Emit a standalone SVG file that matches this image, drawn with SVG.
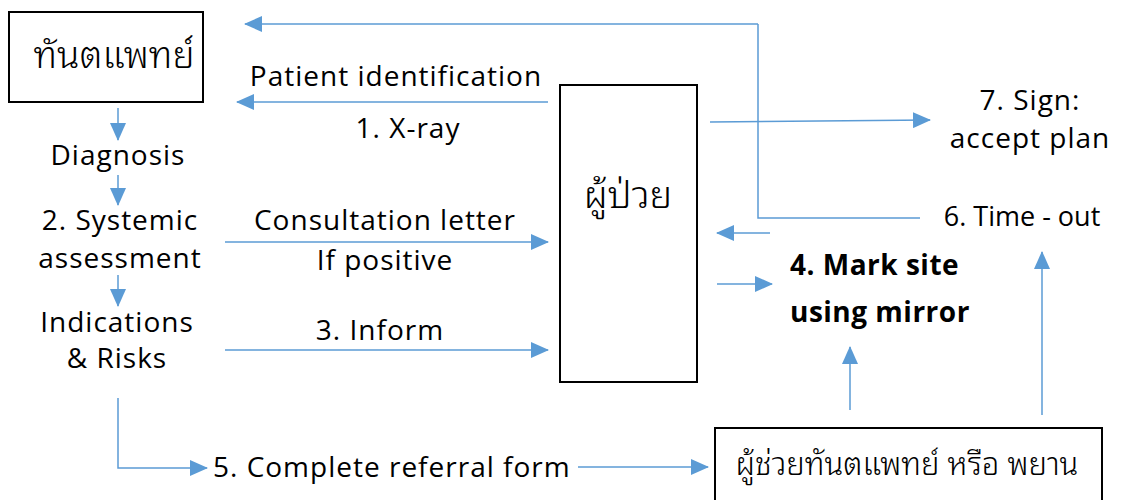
<svg xmlns="http://www.w3.org/2000/svg" width="1135" height="500" viewBox="0 0 1135 500">
<style>
.t{font-family:"Open Sans","Noto Sans",sans-serif;font-size:28px;letter-spacing:1px;fill:#000}
.b{font-weight:bold;letter-spacing:0.5px}
.th{font-family:"Noto Sans Thai Looped","Noto Sans Thai","Noto Sans","DejaVu Sans",sans-serif;font-weight:300;fill:#000}
.box{fill:#fff;stroke:#000;stroke-width:2}
.c{fill:none;stroke:#5B9BD5;stroke-width:1.5;marker-end:url(#ah)}
.n{fill:none;stroke:#5B9BD5;stroke-width:1.5}
</style>
<defs>
<marker id="ah" markerUnits="userSpaceOnUse" markerWidth="18" markerHeight="16" viewBox="0 0 18 16" refX="17" refY="8" orient="auto">
<path d="M0,0 L18,8 L0,16 Z" fill="#5B9BD5"/>
</marker>
</defs>
<rect width="1135" height="500" fill="#fff"/>
<g id="connectors">
<path class="n" d="M920,218 H758 V24"/>
<path class="c" d="M758,24 H245"/>
<path class="c" d="M548,102 H237"/>
<path class="c" d="M710,122 L930,120"/>
<path class="c" d="M770,233 H717"/>
<path class="c" d="M717,284 H772"/>
<path class="c" d="M118,108 V140"/>
<path class="c" d="M118,175 V205"/>
<path class="c" d="M118,275 V306"/>
<path class="c" d="M225,242 H548"/>
<path class="c" d="M225,350 H548"/>
<path class="c" d="M118,398 V468 H207"/>
<path class="c" d="M578,467 H708"/>
<path class="c" d="M850,410 V347"/>
<path class="c" d="M1042,415 V252"/>
</g>
<g id="dentist">
<rect class="box" x="9" y="12" width="194" height="90"/>
<text class="th" x="114" y="68" font-size="37" text-anchor="middle">ทันตแพทย์</text>
</g>
<g id="patient">
<rect class="box" x="560" y="85" width="137" height="297"/>
<text class="th" x="628" y="208" font-size="38" text-anchor="middle">ผู้ป่วย</text>
</g>
<g id="assistant">
<rect class="box" x="715" y="428" width="387" height="80"/>
<text class="th" x="907" y="475" font-size="31" text-anchor="middle">ผู้ช่วยทันตแพทย์ หรือ พยาน</text>
</g>
<g id="labels">
<text class="t" x="396" y="86" text-anchor="middle">Patient identification</text>
<text class="t" x="408" y="138" text-anchor="middle">1. X-ray</text>
<text class="t" x="118" y="165" text-anchor="middle">Diagnosis</text>
<text class="t" x="120" y="230" text-anchor="middle">2. Systemic</text>
<text class="t" x="120" y="268" text-anchor="middle">assessment</text>
<text class="t" x="117" y="332" text-anchor="middle">Indications</text>
<text class="t" x="117" y="368" text-anchor="middle">&amp; Risks</text>
<text class="t" x="385" y="230" text-anchor="middle">Consultation letter</text>
<text class="t" x="385" y="270" text-anchor="middle">If positive</text>
<text class="t" x="380" y="340" text-anchor="middle">3. Inform</text>
<text class="t" x="213" y="477">5. Complete referral form</text>
<text class="t" x="1030" y="110" text-anchor="middle">7. Sign:</text>
<text class="t" x="1030" y="148" text-anchor="middle">accept plan</text>
<text class="t" x="1022" y="226" text-anchor="middle" style="letter-spacing:0;font-size:27px">6. Time - out</text>
<text class="t b" x="790" y="275">4. Mark site</text>
<text class="t b" x="790" y="322">using mirror</text>
</g>
</svg>
